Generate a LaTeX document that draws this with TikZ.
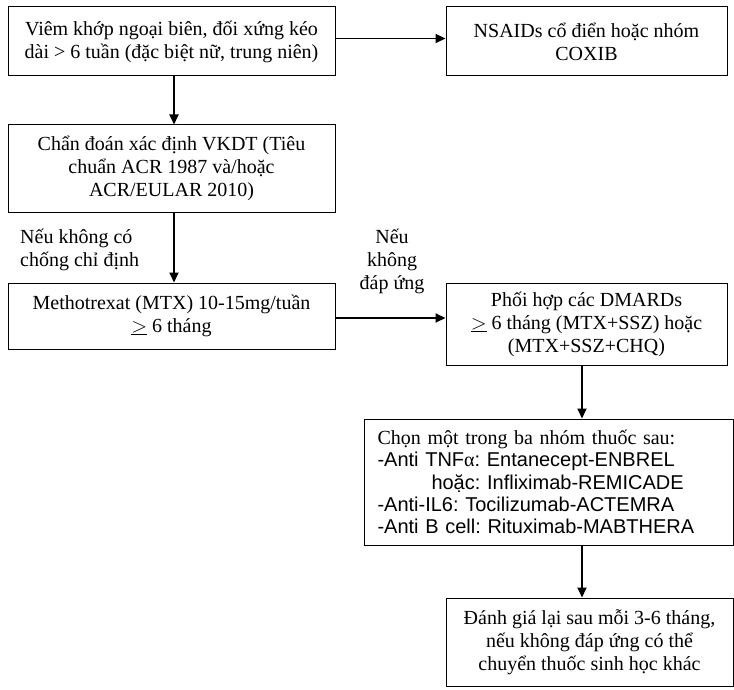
\documentclass[tikz,border=0pt]{standalone}
\usepackage{fontspec}
\setmainfont{Liberation Serif}
\newfontfamily\sansf{Liberation Sans}
\usetikzlibrary{arrows.meta}
\begin{document}
\frenchspacing
\begin{tikzpicture}[x=1pt,y=-1pt,
  box/.style={draw,line width=1pt,inner sep=0pt,align=center,font=\fontsize{20}{23}\selectfont},
  lbl/.style={inner sep=0pt,font=\fontsize{20}{23}\selectfont},
  arr/.style={-{Triangle[length=10pt,width=9pt]},line width=1.8pt}]
\useasboundingbox (0,0) rectangle (734,690);
\fill[white] (0,0) rectangle (734,690);
\node[box,minimum width=327pt,minimum height=69pt] (b1) at (171.5,41.5)
  {Viêm khớp ngoại biên, đối xứng kéo\\dài > 6 tuần (đặc biệt nữ, trung niên)};
\node[box,minimum width=281pt,minimum height=69pt] (b2) at (586.5,41.5)
  {NSAIDs cổ điển hoặc nhóm\\COXIB};
\node[box,minimum width=327pt,minimum height=87pt] (b3) at (171.5,168.5)
  {Chẩn đoán xác định VKDT (Tiêu\\chuẩn ACR 1987 và/hoặc\\ACR/EULAR 2010)};
\node[box,minimum width=327pt,minimum height=66pt] (b4) at (171.5,316)
  {Methotrexat (MTX) 10-15mg/tuần\\$\underline{>}$ 6 tháng};
\node[box,minimum width=281pt,minimum height=82pt] (b5) at (586.5,324)
  {Phối hợp các DMARDs\\$\underline{>}$ 6 tháng (MTX+SSZ) hoặc\\(MTX+SSZ+CHQ)};
\node[box,minimum width=369pt,minimum height=126pt,align=left,text width=342pt,font=\fontsize{20}{22.3}\selectfont] (b6) at (548.5,482)
  {Chọn một trong ba nhóm thuốc sau:\\
   {\sansf -Anti TNF}α{\sansf : Entanecept-ENBREL}\\
   \hspace*{54pt}{\sansf hoặc: Infliximab-REMICADE}\\
   {\sansf -Anti-IL6: Tocilizumab-ACTEMRA}\\
   {\sansf -Anti B cell: Rituximab-MABTHERA}};
\node[box,minimum width=287pt,minimum height=88pt] (b7) at (589.5,642)
  {Đánh giá lại sau mỗi 3-6 tháng,\\nếu không đáp ứng có thể\\chuyển thuốc sinh học khác};
\node[lbl,align=left,anchor=west] (l1) at (20,250) {Nếu không có\\chống chỉ định};
\node[lbl,align=center] (l2) at (392,261.5) {Nếu\\không\\đáp ứng};
\coordinate (c1) at (174,0);
\coordinate (c2) at (582,0);
\draw[arr] (b1.east |- 0,38.5) -- (b2.west |- 0,38.5);
\draw[arr] (b1.south -| c1) -- (b3.north -| c1);
\draw[arr] (b3.south -| c1) -- (b4.north -| c1);
\draw[arr] (b4.east |- 0,318) -- (b5.west |- 0,318);
\draw[arr] (b5.south -| c2) -- (b6.north -| c2);
\draw[arr] (b6.south -| c2) -- (b7.north -| c2);
\end{tikzpicture}
\end{document}
